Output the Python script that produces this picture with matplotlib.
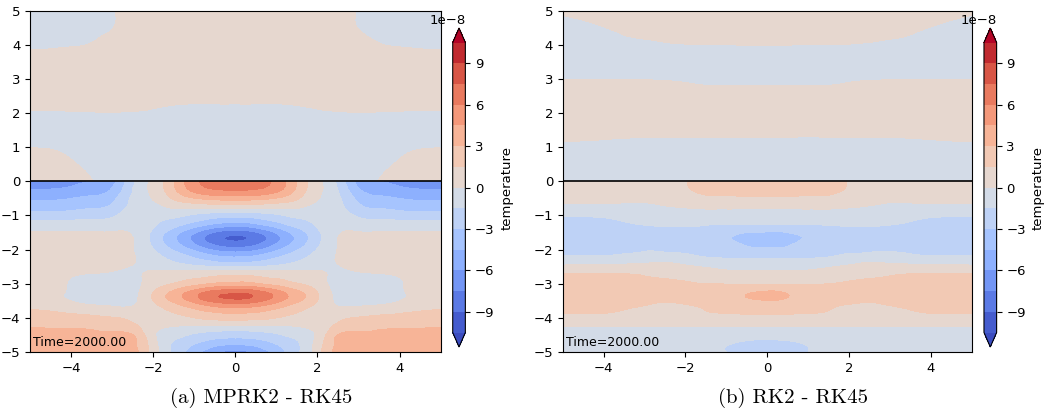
import numpy as np
import matplotlib.pyplot as plt
import matplotlib.tri as mtri

# grid (values in units of 1e-8); x >= 0 half, the fields are mirror-symmetric
x_half = [0.0, 0.5, 1.0, 1.5, 2.0, 2.5, 3.0, 3.5, 4.0, 4.5, 5.0]
y_upper = [0.0, 0.5, 1.0, 1.5, 2.0, 2.5, 3.0, 3.5, 4.0, 4.5, 5.0]
y_lower = [0.0, -0.25, -0.5, -0.75, -1.0, -1.25, -1.5, -1.75, -2.0, -2.25, -2.5,
           -2.75, -3.0, -3.25, -3.5, -3.75, -4.0, -4.25, -4.5, -4.75, -5.0]

# (a) MPRK2 - RK45
mprk2_upper = [
    [-0.8, -0.8, -0.75, -0.65, -0.5, -0.35, -0.2, 0.02, 0.2, 0.35, 0.45],
    [-0.8, -0.8, -0.75, -0.65, -0.55, -0.45, -0.3, -0.12, 0.05, 0.2, 0.3],
    [-0.8, -0.8, -0.75, -0.7, -0.6, -0.5, -0.4, -0.3, -0.15, -0.04, -0.02],
    [-0.6, -0.65, -0.6, -0.5, -0.45, -0.4, -0.35, -0.3, -0.3, -0.3, -0.3],
    [-0.23, -0.35, -0.33, -0.2, -0.08, -0.03, -0.01, -0.02, -0.03, -0.04, -0.05],
    [0.25, 0.3, 0.3, 0.28, 0.25, 0.22, 0.2, 0.2, 0.2, 0.22, 0.25],
    [0.7, 0.7, 0.7, 0.7, 0.65, 0.6, 0.55, 0.5, 0.45, 0.45, 0.45],
    [0.8, 0.8, 0.8, 0.8, 0.75, 0.7, 0.6, 0.5, 0.4, 0.35, 0.3],
    [0.8, 0.8, 0.8, 0.75, 0.7, 0.55, 0.35, 0.05, -0.05, -0.1, -0.12],
    [0.7, 0.7, 0.7, 0.65, 0.55, 0.35, -0.02, -0.2, -0.3, -0.35, -0.4],
    [0.6, 0.6, 0.6, 0.55, 0.45, 0.3, -0.05, -0.3, -0.45, -0.55, -0.6],
]
mprk2_lower = [
    [6.8, 6.5, 5.6, 2.9, 0.4, -1.8, -5.0, -6.0, -6.5, -6.8, -6.9],
    [6.1, 5.9, 5.0, 2.7, 0.4, -1.5, -4.3, -5.2, -5.6, -5.9, -6.0],
    [3.6, 3.5, 2.9, 1.7, 0.1, -1.2, -3.4, -4.2, -4.5, -4.75, -4.8],
    [0.6, 0.55, 0.42, 0.28, -0.46, -1.04, -2.66, -3.22, -3.48, -3.66, -3.7],
    [-2.5, -2.3, -1.75, -1.15, -0.93, -0.72, -1.73, -2.09, -2.26, -2.38, -2.4],
    [-5.0, -4.6, -3.5, -2.3, -1.26, -0.38, -0.72, -0.87, -0.94, -0.99, -1.0],
    [-8.3, -7.64, -5.81, -3.82, -1.81, -0.14, 0.07, 0.09, 0.09, 0.1, 0.1],
    [-9.0, -8.28, -6.3, -4.14, -1.92, 0.05, 0.45, 0.5, 0.5, 0.5, 0.45],
    [-6.8, -6.26, -4.76, -3.13, -1.4, 0.05, 0.5, 0.55, 0.58, 0.6, 0.6],
    [-4.2, -3.86, -2.94, -1.93, -0.81, 0.1, 0.5, 0.6, 0.66, 0.69, 0.7],
    [-1.6, -1.47, -1.12, -0.74, -0.24, -0.05, 0.3, 0.5, 0.6, 0.65, 0.7],
    [1.4, 1.3, 1.0, 0.65, 0.25, -0.2, -0.25, -0.15, 0.1, 0.4, 0.6],
    [3.5, 3.2, 2.45, 1.6, 0.7, -0.5, -0.65, -0.55, -0.1, 0.3, 0.6],
    [7.2, 6.7, 5.2, 3.4, 1.5, -0.5, -0.7, -0.6, -0.15, 0.3, 0.7],
    [7.0, 6.5, 5.0, 3.3, 1.5, -0.3, -0.5, -0.45, 0.0, 0.4, 1.0],
    [4.0, 3.7, 2.9, 1.9, 0.9, 0.3, 0.4, 0.7, 1.0, 1.3, 1.5],
    [2.1, 1.95, 1.5, 1.0, 0.8, 1.2, 1.6, 1.8, 1.95, 2.1, 2.2],
    [-0.3, -0.3, -0.2, 0.0, 0.6, 1.9, 2.5, 2.7, 2.8, 2.85, 2.9],
    [-2.4, -2.2, -1.7, -1.0, 0.3, 3.05, 3.3, 3.4, 3.45, 3.5, 3.5],
    [-4.2, -3.9, -2.9, -1.7, 0.6, 3.3, 3.6, 3.8, 3.85, 3.9, 3.9],
    [-6.6, -5.6, -3.9, -1.8, 0.8, 3.5, 3.8, 3.9, 4.0, 4.0, 4.0],
]

# (b) RK2 - RK45
rk2_upper = [
    [-0.7, -0.7, -0.7, -0.7, -0.7, -0.7, -0.7, -0.7, -0.7, -0.7, -0.7],
    [-0.7, -0.7, -0.7, -0.7, -0.7, -0.7, -0.7, -0.68, -0.65, -0.62, -0.6],
    [-0.4, -0.4, -0.4, -0.4, -0.4, -0.4, -0.38, -0.33, -0.27, -0.22, -0.2],
    [0.3, 0.3, 0.3, 0.3, 0.3, 0.3, 0.3, 0.32, 0.35, 0.38, 0.4],
    [0.7, 0.7, 0.7, 0.7, 0.7, 0.7, 0.7, 0.7, 0.7, 0.7, 0.7],
    [0.4, 0.4, 0.4, 0.42, 0.45, 0.47, 0.5, 0.5, 0.5, 0.5, 0.5],
    [-0.3, -0.3, -0.3, -0.28, -0.15, -0.07, -0.03, -0.03, -0.03, -0.03, -0.03],
    [-0.6, -0.6, -0.6, -0.6, -0.6, -0.6, -0.6, -0.6, -0.6, -0.5, -0.4],
    [0.01, 0.01, 0.0, -0.01, -0.03, -0.1, -0.2, -0.27, -0.45, -0.55, -0.6],
    [0.5, 0.5, 0.5, 0.48, 0.45, 0.4, 0.3, 0.15, -0.02, -0.2, -0.35],
    [0.8, 0.8, 0.8, 0.8, 0.75, 0.7, 0.6, 0.5, 0.4, 0.3, 0.15],
]
rk2_lower = [
    [2.3, 2.3, 2.25, 2.1, 1.4, 1.0, 0.9, 0.9, 0.9, 0.9, 0.9],
    [2.0, 2.0, 1.95, 1.9, 1.3, 0.85, 0.8, 0.8, 0.8, 0.8, 0.8],
    [1.3, 1.3, 1.28, 1.2, 0.8, 0.5, 0.4, 0.4, 0.4, 0.4, 0.4],
    [0.3, 0.3, 0.3, 0.28, 0.1, -0.1, -0.4, -0.4, -0.4, -0.4, -0.4],
    [-0.8, -0.8, -0.8, -0.8, -0.8, -0.85, -0.95, -1.1, -1.3, -1.35, -1.35],
    [-1.45, -1.45, -1.45, -1.4, -1.35, -1.35, -1.42, -1.66, -2.0, -2.15, -2.2],
    [-3.1, -3.0, -2.6, -2.1, -1.95, -2.0, -2.09, -2.3, -2.5, -2.6, -2.6],
    [-3.35, -3.2, -2.85, -2.4, -2.2, -2.2, -2.3, -2.45, -2.55, -2.6, -2.6],
    [-2.8, -2.75, -2.5, -2.1, -1.75, -1.65, -1.6, -1.8, -2.0, -2.1, -2.1],
    [-1.55, -1.55, -1.5, -1.35, -1.05, -0.9, -0.95, -1.05, -1.15, -1.1, -1.1],
    [-0.5, -0.48, -0.4, -0.1, 0.26, 0.83, 0.63, 0.5, 0.4, 0.35, 0.3],
    [0.5, 0.5, 0.55, 0.7, 1.0, 1.3, 1.45, 1.65, 1.7, 1.7, 1.7],
    [1.4, 1.4, 1.45, 1.5, 1.75, 2.0, 2.2, 2.35, 2.4, 2.4, 2.4],
    [3.2, 2.85, 2.4, 2.2, 2.2, 2.3, 2.45, 2.55, 2.6, 2.6, 2.6],
    [2.95, 2.75, 2.35, 2.0, 1.85, 1.65, 2.0, 2.35, 2.45, 2.5, 2.5],
    [2.0, 1.95, 1.8, 1.55, 1.12, 1.03, 1.17, 1.55, 1.9, 2.0, 2.0],
    [1.1, 1.1, 1.05, 1.0, 0.8, 0.7, 0.75, 0.9, 1.0, 1.0, 1.0],
    [0.0, 0.0, 0.0, 0.02, 0.02, 0.03, 0.03, 0.03, 0.05, 0.05, 0.05],
    [-1.0, -0.95, -0.8, -0.65, -0.6, -0.6, -0.6, -0.65, -0.7, -0.7, -0.7],
    [-1.8, -1.72, -1.4, -1.2, -1.0, -0.9, -0.9, -0.95, -1.0, -1.0, -1.0],
    [-2.2, -2.05, -1.5, -1.25, -1.1, -1.0, -1.0, -1.05, -1.1, -1.1, -1.1],
]

levels = np.arange(-10.5, 10.6, 1.5)
cbar_ticks = [-9, -6, -3, 0, 3, 6, 9]
scale = 1e-8

panels = [
    ("(a) MPRK2 - RK45", mprk2_upper, mprk2_lower),
    ("(b) RK2 - RK45", rk2_upper, rk2_lower),
]

x_full = np.concatenate([-np.array(x_half[:0:-1]), x_half])


def mirror(rows):
    rows = np.array(rows, dtype=float)
    return np.hstack([rows[:, :0:-1], rows])


def draw_half(ax, y, rows):
    X, Y = np.meshgrid(x_full, y)
    Z = mirror(rows)
    tri = mtri.Triangulation(X.ravel(), Y.ravel())
    tri_f, z_f = mtri.UniformTriRefiner(tri).refine_field(Z.ravel(), subdiv=3)
    return ax.tricontourf(tri_f, z_f * scale, levels=levels * scale,
                          cmap='coolwarm', extend='both')


fig = plt.figure(figsize=(10.46, 4.13), dpi=100)

ax_pos = [[0.0287, 0.1477, 0.3926, 0.8264], [0.5380, 0.1477, 0.3910, 0.8264]]
cax_pos = [[0.4328, 0.1598, 0.0121, 0.7724], [0.9407, 0.1598, 0.0121, 0.7724]]
caption_x = [0.2495, 0.7586]

for i, (title, upper, lower) in enumerate(panels):
    ax = fig.add_axes(ax_pos[i])
    cs = draw_half(ax, y_upper, upper)
    draw_half(ax, y_lower, lower)
    ax.axhline(0, color='k', lw=1.2)
    ax.set_xlim(-5, 5)
    ax.set_ylim(-5, 5)
    ax.set_xticks([-4, -2, 0, 2, 4])
    ax.set_yticks(range(-5, 6))
    ax.tick_params(labelsize=9.5)
    ax.text(0.008, 0.008, 'Time=2000.00', transform=ax.transAxes,
            fontsize=9, ha='left', va='bottom')

    cax = fig.add_axes(cax_pos[i])
    cb = fig.colorbar(cs, cax=cax, ticks=np.array(cbar_ticks) * scale)
    cb.set_label('temperature', fontsize=9.5)
    cb.ax.tick_params(labelsize=9.5)
    cb.ax.yaxis.get_offset_text().set_fontsize(9.5)

    fig.text(caption_x[i], 0.012, title, family='cmr10', fontsize=15,
             ha='center', va='bottom')

fig.savefig('out.png', dpi=100)
